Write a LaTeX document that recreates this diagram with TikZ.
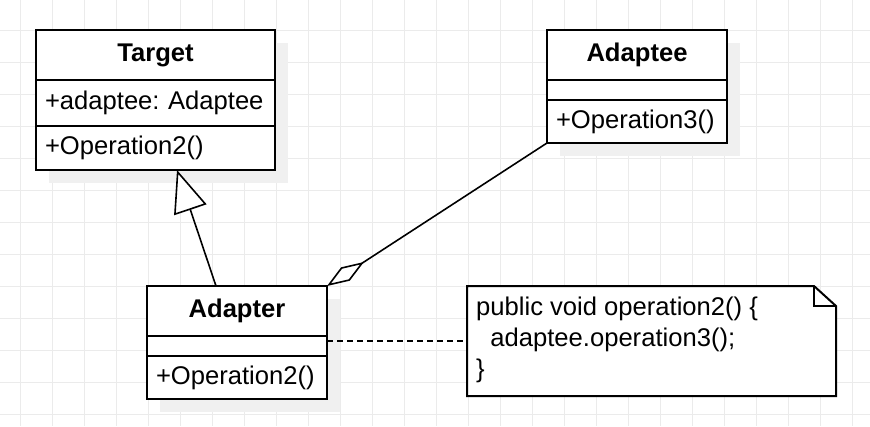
\documentclass[tikz,border=0pt]{standalone}
\usepackage{fontspec}
\setmainfont{Liberation Sans}
\usetikzlibrary{arrows.meta,positioning,backgrounds}
\definecolor{gridgray}{HTML}{EBEBEB}
\definecolor{shadowgray}{HTML}{F0F0F0}
\newcommand\umlfont{\fontsize{25.6pt}{30.7pt}\selectfont}
\tikzset{
  classname/.style={draw,line width=2pt,fill=white,outer sep=0pt,inner sep=0pt,
    font=\umlfont\bfseries,minimum width=#1,minimum height=50pt},
  member/.style={draw,line width=2pt,fill=white,outer sep=0pt,inner xsep=9pt,inner ysep=0pt,
    font=\umlfont,align=left,text width=#1-18pt},
  link/.style={line width=1.6pt}
}
\begin{document}
\begin{tikzpicture}[x=1pt,y=-1pt]
\useasboundingbox (0,0) rectangle (870,426);

\node[classname=239pt] (target) at (155.5,55) {Target};
\node[member=239pt,minimum height=46pt,below=0pt of target] (targetattr) {+adaptee:~Adaptee};
\node[member=239pt,minimum height=44pt,below=0pt of targetattr] (targetops) {+Operation2()};

\node[classname=180pt] (adaptee) at (637,55) {Adaptee};
\node[member=180pt,minimum height=20pt,below=0pt of adaptee] (adapteeattr) {};
\node[member=180pt,minimum height=43pt,below=0pt of adapteeattr] (adapteeops) {+Operation3()};

\node[classname=180pt] (adapter) at (237,311) {Adapter};
\node[member=180pt,minimum height=20pt,below=0pt of adapter] (adapterattr) {};
\node[member=180pt,minimum height=43pt,below=0pt of adapterattr] (adapterops) {+Operation2()};

\node[minimum width=369pt,minimum height=110pt,inner sep=0pt,outer sep=0pt] (note) at (651.5,341) {};
\draw[line width=2pt,fill=white] (note.north west) -- ([xshift=-22pt]note.north east)
  -- ([yshift=-20pt]note.north east) -- (note.south east) -- (note.south west) -- cycle;
\draw[line width=2pt] ([xshift=-22pt]note.north east) -- ([xshift=-22pt,yshift=-20pt]note.north east)
  -- ([yshift=-20pt]note.north east);
\node[anchor=north west,inner sep=0pt,font=\umlfont,align=left] (code) at ([shift={(9,11)}]note.north west)
  {public void operation2() \{\\\hspace*{14.2pt}adaptee.operation3();\\\}};

\draw[link,-{Triangle[open,length=42pt,width=34pt,fill=white]}] ([xshift=-21pt]adapter.north) -- ([xshift=21.5pt]targetops.south);
\draw[link,-{Diamond[open,length=44pt,width=16pt,fill=white]}] (adapteeops.south west) -- (adapter.north east);
\draw[link,dash pattern=on 6pt off 4pt] (note.west -| adapterattr.east) -- (note.west);

\begin{scope}[on background layer]
\fill[white] (0,0) rectangle (870,426);
\foreach \x in {0,...,26}
	\draw[gridgray,line width=1pt] ({20.7+32*\x},0) -- ({20.7+32*\x},426);
\foreach \y in {1,...,13}
	\draw[gridgray,line width=1pt] (0,{-1.7+32*\y}) -- (870,{-1.7+32*\y});
\fill[shadowgray] ([shift={(13,13)}]target.north west) rectangle ([shift={(13,13)}]targetops.south east);
\fill[shadowgray] ([shift={(13,13)}]adaptee.north west) rectangle ([shift={(13,13)}]adapteeops.south east);
\fill[shadowgray] ([shift={(13,13)}]adapter.north west) rectangle ([shift={(13,13)}]adapterops.south east);
\end{scope}
\end{tikzpicture}
\end{document}
